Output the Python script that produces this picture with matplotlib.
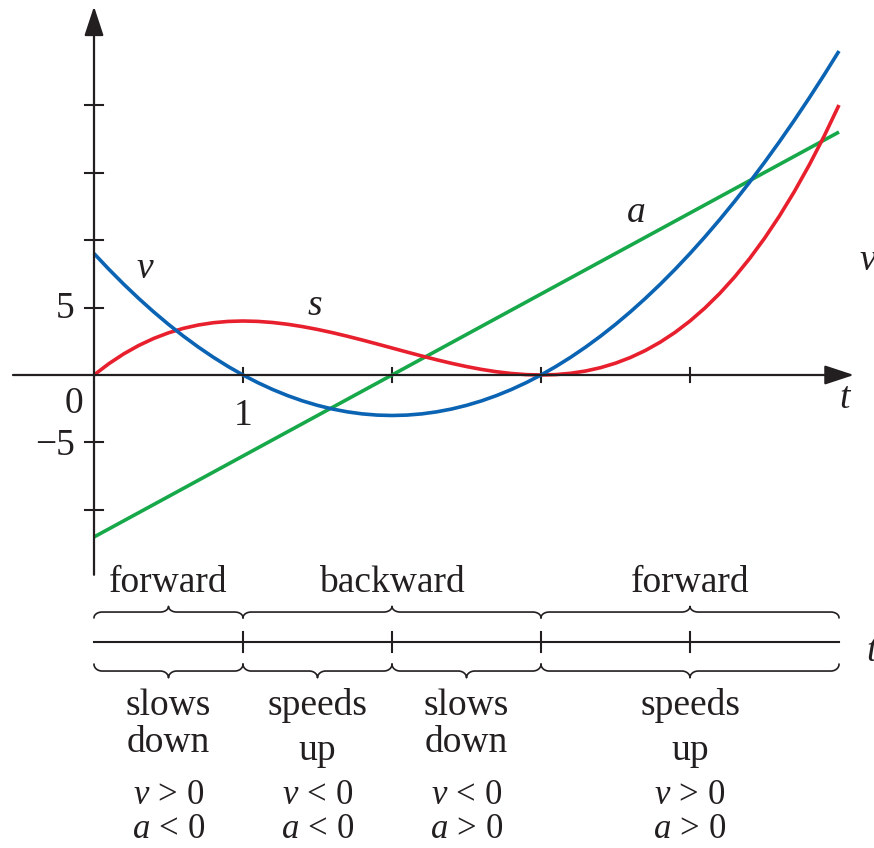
import numpy as np
import matplotlib
matplotlib.use("Agg")
import matplotlib.pyplot as plt

plt.rcParams['font.family'] = ['Liberation Serif', 'DejaVu Serif']
plt.rcParams['mathtext.fontset'] = 'custom'
plt.rcParams['mathtext.rm'] = 'Liberation Serif'
plt.rcParams['mathtext.it'] = 'Liberation Serif:italic'

# position s, velocity v and acceleration a sampled every 0.1 s
t_vals = np.linspace(0, 5, 51)
s_vals = [0, 0.841, 1.568, 2.187, 2.704, 3.125, 3.456, 3.703, 3.872, 3.969,
          4.0, 3.971, 3.888, 3.757, 3.584, 3.375, 3.136, 2.873, 2.592, 2.299,
          2.0, 1.701, 1.408, 1.127, 0.864, 0.625, 0.416, 0.243, 0.112, 0.029,
          0.0, 0.031, 0.128, 0.297, 0.544, 0.875, 1.296, 1.813, 2.432, 3.159,
          4.0, 4.961, 6.048, 7.267, 8.624, 10.125, 11.776, 13.583, 15.552, 17.689,
          20.0]
v_vals = [9, 7.83, 6.72, 5.67, 4.68, 3.75, 2.88, 2.07, 1.32, 0.63,
          0, -0.57, -1.08, -1.53, -1.92, -2.25, -2.52, -2.73, -2.88, -2.97,
          -3, -2.97, -2.88, -2.73, -2.52, -2.25, -1.92, -1.53, -1.08, -0.57,
          0, 0.63, 1.32, 2.07, 2.88, 3.75, 4.68, 5.67, 6.72, 7.83,
          9, 10.23, 11.52, 12.87, 14.28, 15.75, 17.28, 18.87, 20.52, 22.23,
          24]
a_t = [0, 1, 2, 3, 4, 5]
a_vals = [-12, -6, 0, 6, 12, 18]

y_ticks = [-10, -5, 5, 10, 15, 20]
x_ticks = [1, 2, 3, 4]

# intervals on the t line
dir_spans = [(0, 1), (1, 3), (3, 5)]
dir_labels = ['forward', 'backward', 'forward']
dir_centers = [0.5, 2, 4]
speed_spans = [(0, 1), (1, 2), (2, 3), (3, 5)]
speed_top = ['slows', 'speeds', 'slows', 'speeds']
speed_bot = ['down', 'up', 'down', 'up']
v_signs = [r'$v\,>\,0$', r'$v\,<\,0$', r'$v\,<\,0$', r'$v\,>\,0$']
a_signs = [r'$a\,<\,0$', r'$a\,<\,0$', r'$a\,>\,0$', r'$a\,>\,0$']
col_centers = [0.5, 1.5, 2.5, 4.0]

BLUE = '#0b63b3'
RED = '#e8202e'
GREEN = '#17a84a'
INK = '#231f20'

fig = plt.figure(figsize=(8.74, 8.48), dpi=100)
ax = fig.add_axes([0, 0, 1, 1])
ax.set_xlim(-0.6309, 5.2349)
ax.set_ylim(-35.04, 27.78)
ax.axis('off')

arrow = dict(arrowstyle='-|>,head_length=1.0,head_width=0.33', color=INK,
             lw=1.6, shrinkA=0, shrinkB=0, mutation_scale=18)
ax.annotate('', xy=(5.10, 0), xytext=(-0.544, 0), arrowprops=arrow)
ax.annotate('', xy=(0, 27.3), xytext=(0, -14.8), arrowprops=arrow)

for yt in y_ticks:
    ax.plot([-0.06, 0.06], [yt, yt], color=INK, lw=1.5)
for xt in x_ticks:
    ax.plot([xt, xt], [-0.52, 0.52], color=INK, lw=1.5)

ax.plot(a_t, a_vals, color=GREEN, lw=2.6, solid_capstyle='butt')
ax.plot(t_vals, s_vals, color=RED, lw=2.6, solid_capstyle='butt')
ax.plot(t_vals, v_vals, color=BLUE, lw=2.6, solid_capstyle='butt')

fs = 27
ax.text(-0.128, 4.22, '5', ha='right', va='baseline', fontsize=fs, color=INK)
ax.text(-0.128, -5.93, '\u22125', ha='right', va='baseline', fontsize=fs, color=INK)
ax.text(-0.138, -2.81, '0', ha='center', va='baseline', fontsize=fs, color=INK)
ax.text(1.0, -3.70, '1', ha='center', va='baseline', fontsize=fs, color=INK)
ax.text(5.04, -2.44, 't', ha='center', va='baseline', fontsize=fs,
        style='italic', color=INK)
ax.text(5.14, 7.78, 'v', ha='left', va='baseline', fontsize=fs,
        style='italic', color=INK)
ax.text(0.34, 7.19, 'v', ha='center', va='baseline', fontsize=fs,
        style='italic', color=INK)
ax.text(1.48, 4.44, 's', ha='center', va='baseline', fontsize=fs,
        style='italic', color=INK)
ax.text(3.64, 11.33, 'a', ha='center', va='baseline', fontsize=fs,
        style='italic', color=INK)


def brace(x0, x1, y, h, d, rx=0.055, n=20):
    xm = (x0 + x1) / 2
    th = np.linspace(np.pi, np.pi / 2, n)
    xs = list(x0 + rx + rx * np.cos(th))
    ys = list(y - d * h + d * h * np.sin(th))
    th = np.linspace(1.5 * np.pi, 2 * np.pi, n)
    xs += list(xm - rx + rx * np.cos(th))
    ys += list(y + d * h + d * h * np.sin(th))
    # mirror the left half
    xs = xs + [2 * xm - x for x in xs[::-1]]
    ys = ys + ys[::-1]
    ax.plot(xs, ys, color=INK, lw=1.2)


# t number line with direction / speed braces
line_y = -19.78
ax.plot([0, 5], [line_y, line_y], color=INK, lw=1.5)
for xt in x_ticks:
    ax.plot([xt, xt], [line_y - 0.74, line_y + 0.74], color=INK, lw=1.5)
ax.text(5.185, -21.2, 't', ha='left', va='baseline', fontsize=fs,
        style='italic', color=INK)

for (x0, x1) in dir_spans:
    brace(x0, x1, -17.56, 0.42, 1)
for (x0, x1) in speed_spans:
    brace(x0, x1, -21.93, 0.5, -1)

for lab, xc in zip(dir_labels, dir_centers):
    ax.text(xc, -16.07, lab, ha='center', va='baseline', fontsize=fs, color=INK)

for i, xc in enumerate(col_centers):
    ax.text(xc, -25.19, speed_top[i], ha='center', va='baseline', fontsize=fs, color=INK)
    up = speed_bot[i] == 'up'
    ax.text(xc, -28.5 if up else -27.93, speed_bot[i], ha='center',
            va='baseline', fontsize=fs, color=INK)
    ax.text(xc, -31.75, v_signs[i], ha='center', va='baseline', fontsize=fs - 2, color=INK)
    ax.text(xc, -34.3, a_signs[i], ha='center', va='baseline', fontsize=fs - 2, color=INK)

fig.savefig('out.png', dpi=100)
